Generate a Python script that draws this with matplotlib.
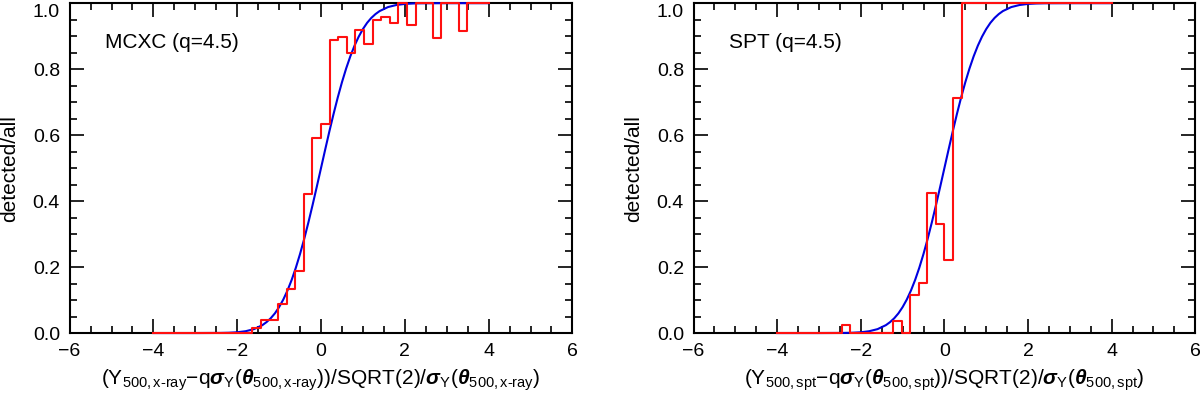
import matplotlib
matplotlib.use("Agg")
import matplotlib.pyplot as plt
import matplotlib.transforms as mtrans
import numpy as np
from matplotlib.ticker import MultipleLocator

plt.rcParams['font.family'] = ['Liberation Sans', 'DejaVu Sans']
plt.rcParams['mathtext.fontset'] = 'custom'
plt.rcParams['mathtext.rm'] = 'Liberation Sans'
plt.rcParams['mathtext.it'] = 'Liberation Sans:italic'
plt.rcParams['mathtext.bf'] = 'Liberation Sans:bold'
plt.rcParams['mathtext.bfit'] = 'Liberation Sans:bold:italic'

# histogram bin locations (40 bins from -4 to 4)
bin_centers = np.linspace(-4, 4, 40)

# detected/all fraction per bin
mcxc_frac = [0, 0, 0, 0, 0, 0, 0, 0, 0, 0, 0, 0,
             0.014, 0.04, 0.04, 0.088, 0.135, 0.188, 0.423, 0.592,
             0.635, 0.888, 0.898, 0.849, 0.920, 0.876, 0.950, 0.958,
             0.940, 1.0, 0.933, 1.0, 1.0, 0.895, 1.0, 1.0,
             0.916, 1.0, 1.0, 1.0]
spt_frac = [0, 0, 0, 0, 0, 0, 0, 0, 0.024, 0,
            0, 0, 0, 0, 0.037, 0, 0.115, 0.153, 0.425, 0.330,
            0.221, 0.713, 1.0, 1.0, 1.0, 1.0, 1.0, 1.0, 1.0, 1.0,
            1.0, 1.0, 1.0, 1.0, 1.0, 1.0, 1.0, 1.0, 1.0, 1.0]

# expected completeness curve (blue)
model_x = [-4.0, -3.0, -2.4, -2.2, -2.0, -1.8, -1.6, -1.4, -1.3, -1.2, -1.1, -1.0,
           -0.9, -0.8, -0.7, -0.6, -0.5, -0.4, -0.3, -0.2, -0.1, 0.0,
           0.1, 0.2, 0.3, 0.4, 0.5, 0.6, 0.7, 0.8, 0.9, 1.0,
           1.1, 1.2, 1.3, 1.4, 1.6, 1.8, 2.0, 2.2, 2.4, 3.0, 4.0]
model_y = [0.0, 0.0, 0.0003, 0.0009, 0.0023, 0.0055, 0.0118, 0.0239, 0.0331, 0.0448, 0.0597, 0.0786,
           0.1015, 0.1289, 0.1611, 0.1981, 0.2398, 0.2858, 0.3357, 0.3886, 0.4438, 0.5,
           0.5562, 0.6114, 0.6643, 0.7142, 0.7602, 0.8019, 0.8389, 0.8711, 0.8985, 0.9214,
           0.9403, 0.9552, 0.9669, 0.9761, 0.9882, 0.9945, 0.9977, 0.9991, 0.9997, 1.0, 1.0]

titles = ['MCXC (q=4.5)', 'SPT (q=4.5)']
xlabels = [
    r'$(\mathrm{Y}_{\mathrm{500,}\text{x-ray}}\mathrm{-q}\boldsymbol{\sigma}_{\mathrm{Y}}'
    r'(\boldsymbol{\theta}_{\mathrm{500,}\text{x-ray}}))\mathrm{/SQRT(2)/}'
    r'\boldsymbol{\sigma}_{\mathrm{Y}}(\boldsymbol{\theta}_{\mathrm{500,}\text{x-ray}})$',
    r'$(\mathrm{Y}_{\mathrm{500,spt}}\mathrm{-q}\boldsymbol{\sigma}_{\mathrm{Y}}'
    r'(\boldsymbol{\theta}_{\mathrm{500,spt}}))\mathrm{/SQRT(2)/}'
    r'\boldsymbol{\sigma}_{\mathrm{Y}}(\boldsymbol{\theta}_{\mathrm{500,spt}})$',
]


def draw_panel(fig, ax, frac, title, xlabel):
    ax.plot(model_x, model_y, color='#0000e0', lw=1.5, clip_on=False, zorder=3)
    ax.plot(bin_centers, frac, drawstyle='steps-mid', color='#ff1010', lw=1.5,
            clip_on=False, zorder=4)

    ax.set_xlim(-6, 6)
    ax.set_ylim(0, 1)
    ax.xaxis.set_major_locator(MultipleLocator(2))
    ax.xaxis.set_minor_locator(MultipleLocator(0.5))
    ax.yaxis.set_major_locator(MultipleLocator(0.2))
    ax.yaxis.set_minor_locator(MultipleLocator(0.05))
    ax.set_yticks([0, 0.2, 0.4, 0.6, 0.8, 1.0])
    ax.set_yticklabels(['0.0', '0.2', '0.4', '0.6', '0.8', '1.0'])
    ax.tick_params(which='both', direction='in', top=True, right=True,
                   labelsize=14, width=1.2, color='black')
    ax.tick_params(which='major', length=10, pad=7)
    ax.tick_params(which='minor', length=5)
    for s in ax.spines.values():
        s.set_linewidth(1.5)

    # nudge the top y label down so it stays inside the figure
    top = ax.get_yticklabels()[-1]
    top.set_transform(top.get_transform() +
                      mtrans.ScaledTranslation(0, -0.07, fig.dpi_scale_trans))

    ax.text(-5.16, 0.88, title, fontsize=15, ha='left', va='center')
    ax.set_ylabel('detected/all', fontsize=15)
    ax.yaxis.set_label_coords(-0.1, 0.5)
    ax.set_xlabel(xlabel, fontsize=15)
    ax.xaxis.set_label_coords(0.5, -0.105)


fig = plt.figure(figsize=(12, 3.96), dpi=100)
ax1 = fig.add_axes([0.058, 0.159, 0.419, 0.833])
ax2 = fig.add_axes([0.578, 0.159, 0.418, 0.833])

draw_panel(fig, ax1, mcxc_frac, titles[0], xlabels[0])
draw_panel(fig, ax2, spt_frac, titles[1], xlabels[1])

fig.savefig('out.png', dpi=100)
